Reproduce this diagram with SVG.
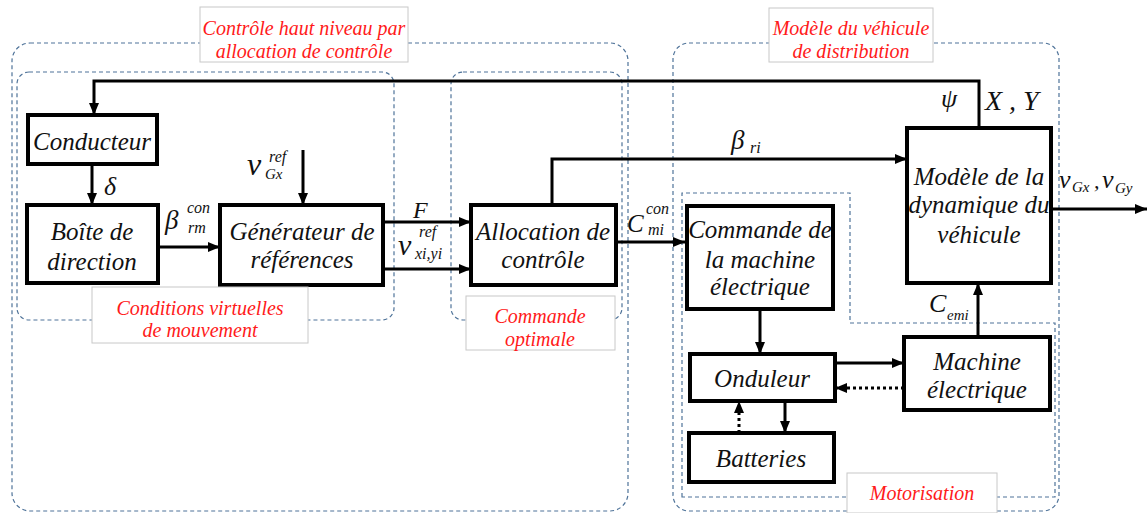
<svg xmlns="http://www.w3.org/2000/svg" width="1148" height="513" viewBox="0 0 1148 513">
<style>
.grp{fill:none;stroke:#4f7399;stroke-width:1.2;stroke-dasharray:4 3}
.lbl{fill:#fff;stroke:#c8c8c8;stroke-width:1}
.ln{fill:none;stroke:#000;stroke-width:3}
.dot{fill:none;stroke:#000;stroke-width:3;stroke-dasharray:3 3}
.box{fill:#fff;stroke:#000;stroke-width:4}
.t{font-family:'Liberation Serif',serif;font-style:italic}
.bt{font-size:25px;fill:#111;text-anchor:middle}
.lt{font-size:20px;fill:#ff1a1a;text-anchor:middle}
.m{fill:#111}
</style>
<defs>
<marker id="ah" markerUnits="userSpaceOnUse" markerWidth="12" markerHeight="10" refX="12" refY="5" orient="auto"><path d="M0,0 L12,5 L0,10 z" fill="#000"/></marker>
</defs>

<g id="groups">
<rect class="grp" x="12" y="43" width="616" height="468" rx="18"/>
<rect class="grp" x="17" y="72" width="377" height="248" rx="12"/>
<rect class="grp" x="451" y="72" width="171" height="248" rx="12"/>
<rect class="grp" x="673" y="43" width="386" height="468" rx="16"/>
<path class="grp" d="M682,497 L682,193 L850,193 L850,323 L1055,323 L1055,497 Z"/>
</g>

<g id="connectors">
<path class="ln" d="M979,128 V81 H94 V115" marker-end="url(#ah)"/>
<path class="ln" d="M92,164 V205" marker-end="url(#ah)"/>
<path class="ln" d="M158,247 H220" marker-end="url(#ah)"/>
<path class="ln" d="M303,150 V205" marker-end="url(#ah)"/>
<path class="ln" d="M383,222 H471" marker-end="url(#ah)"/>
<path class="ln" d="M383,269 H471" marker-end="url(#ah)"/>
<path class="ln" d="M552,205 V159 H907" marker-end="url(#ah)"/>
<path class="ln" d="M616,242 H685" marker-end="url(#ah)"/>
<path class="ln" d="M760,309 V354" marker-end="url(#ah)"/>
<path class="ln" d="M835,363 H904" marker-end="url(#ah)"/>
<path class="dot" d="M904,388 H835" marker-end="url(#ah)"/>
<path class="ln" d="M785,401 V433" marker-end="url(#ah)"/>
<path class="dot" d="M739,433 V401" marker-end="url(#ah)"/>
<path class="ln" d="M978,337 V283" marker-end="url(#ah)"/>
<path class="ln" d="M1051,209 H1147" marker-end="url(#ah)"/>
</g>

<g id="labels-math">
<text class="t m" x="104" y="195" font-size="26">δ</text>
<text class="t m" x="165" y="229" font-size="27">β</text>
<text class="t m" x="187" y="213" font-size="16">con</text>
<text class="t m" x="188" y="233" font-size="16">rm</text>
<text class="t m" x="247" y="175" font-size="32">v</text>
<text class="t m" x="269" y="162" font-size="16">ref</text>
<text class="t m" x="265" y="179" font-size="15">Gx</text>
<text class="t m" x="413" y="218" font-size="24">F</text>
<text class="t m" x="398" y="255" font-size="30">v</text>
<text class="t m" x="419" y="237" font-size="16">ref</text>
<text class="t m" x="415" y="259" font-size="16">xi,yi</text>
<text class="t m" x="627" y="232" font-size="25">C</text>
<text class="t m" x="646" y="214" font-size="16">con</text>
<text class="t m" x="648" y="235" font-size="16">mi</text>
<text class="t m" x="731" y="149" font-size="27">β</text>
<text class="t m" x="750" y="153" font-size="16">ri</text>
<text class="t m" x="941" y="107" font-size="26">ψ</text>
<text class="t m" x="985" y="110" font-size="28">X , Y</text>
<text class="t m" x="1059" y="188" font-size="26">v</text>
<text class="t m" x="1072" y="192" font-size="15">Gx</text>
<text class="t m" x="1094" y="188" font-size="22">,</text>
<text class="t m" x="1102" y="188" font-size="26">v</text>
<text class="t m" x="1115" y="193" font-size="15">Gy</text>
<text class="t m" x="929" y="312" font-size="26">C</text>
<text class="t m" x="947" y="320" font-size="15">emi</text>
</g>

<g id="nodes">
<g id="node-conducteur"><rect class="box" x="28" y="115" width="129" height="49"/><text class="t bt" x="92" y="150">Conducteur</text></g>
<g id="node-boite"><rect class="box" x="27" y="205" width="131" height="78"/><text class="t bt" x="92" y="240">Boîte de</text><text class="t bt" x="92" y="270">direction</text></g>
<g id="node-generateur"><rect class="box" x="220" y="205" width="163" height="80"/><text class="t bt" x="302" y="240">Générateur de</text><text class="t bt" x="302" y="268">références</text></g>
<g id="node-allocation"><rect class="box" x="471" y="205" width="145" height="80"/><text class="t bt" x="543" y="240">Allocation de</text><text class="t bt" x="543" y="268">contrôle</text></g>
<g id="node-commande"><rect class="box" x="687" y="206" width="146" height="103"/><text class="t bt" x="760" y="238">Commande de</text><text class="t bt" x="760" y="268">la machine</text><text class="t bt" x="760" y="295">électrique</text></g>
<g id="node-modele"><rect class="box" x="907" y="128" width="144" height="155"/><text class="t bt" x="979" y="185">Modèle de la</text><text class="t bt" x="979" y="213">dynamique du</text><text class="t bt" x="979" y="243">véhicule</text></g>
<g id="node-onduleur"><rect class="box" x="690" y="354" width="145" height="47"/><text class="t bt" x="762" y="387">Onduleur</text></g>
<g id="node-machine"><rect class="box" x="904" y="337" width="146" height="73"/><text class="t bt" x="977" y="370">Machine</text><text class="t bt" x="977" y="398">électrique</text></g>
<g id="node-batteries"><rect class="box" x="689" y="433" width="145" height="49"/><text class="t bt" x="761" y="467">Batteries</text></g>
</g>

<g id="group-labels">
<rect class="lbl" x="200" y="7" width="208" height="55"/>
<text class="t lt" x="304" y="35">Contrôle haut niveau par</text>
<text class="t lt" x="304" y="58">allocation de contrôle</text>
<rect class="lbl" x="769" y="8" width="164" height="54"/>
<text class="t lt" x="851" y="35">Modèle du véhicule</text>
<text class="t lt" x="851" y="58">de distribution</text>
<rect class="lbl" x="92" y="287" width="216" height="56"/>
<text class="t lt" x="200" y="315">Conditions virtuelles</text>
<text class="t lt" x="200" y="337">de mouvement</text>
<rect class="lbl" x="466" y="296" width="149" height="54"/>
<text class="t lt" x="540" y="323">Commande</text>
<text class="t lt" x="540" y="346">optimale</text>
<rect class="lbl" x="847" y="473" width="150" height="40"/>
<text class="t lt" x="922" y="500">Motorisation</text>
</g>
</svg>
